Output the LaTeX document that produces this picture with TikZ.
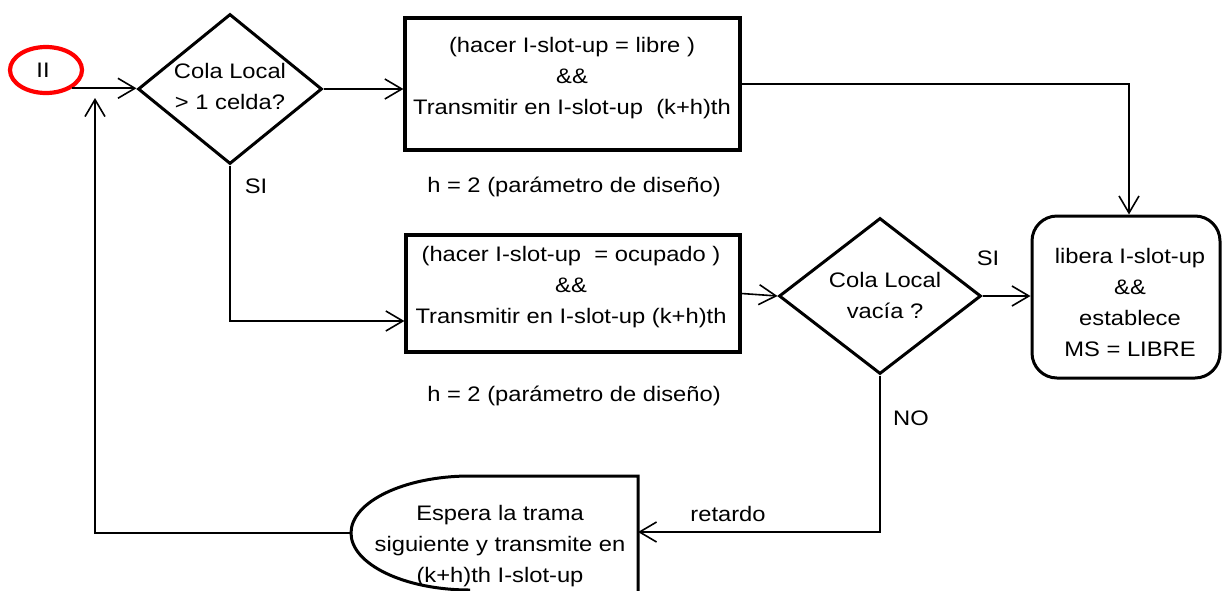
\documentclass[tikz,border=0pt]{standalone}
\usepackage{fontspec}
\setmainfont{Liberation Sans}[FakeStretch=1.13]
\usetikzlibrary{shapes.geometric,arrows.meta,calc}
\begin{document}
\begin{tikzpicture}[x=1pt,y=-1pt,
  every node/.style={font=\fontsize{21}{31}\selectfont, inner sep=0pt},
  con/.style={line width=1.6pt, -{Straight Barb[length=17pt,width=20pt]}},
  dia/.style={diamond, draw, line width=3pt, inner sep=0pt},
  box/.style={rectangle, draw, line width=3.2pt},
  lbl/.style={align=center}]
\useasboundingbox (0,0) rectangle (1223,590);

% start ellipse
\node[ellipse, draw=red, line width=4.2pt, minimum width=72pt, minimum height=46pt] (ell) at (46,70) {};
\node (ellt) at (43,70) {II};

% first decision
\node[dia, minimum width=184pt, minimum height=150pt] (d1) at (230,89) {};
\node[lbl] (d1t) at (230,86) {Cola Local\\> 1 celda?};

% box 1
\node[box, minimum width=335pt, minimum height=132pt] (b1) at (572.5,84) {};
\node[lbl] (b1t) at (572,78) {(hacer I-slot-up = libre )\\\&\&\\Transmitir en I-slot-up\ \ (k+h)th};
\node (h1) at (574,187) {h = 2 (parámetro de diseño)};
\node (si1) at (256,186) {SI};

% box 2
\node[box, minimum width=334pt, minimum height=117pt] (b2) at (573,293.5) {};
\node[lbl] (b2t) at (571,287) {(hacer I-slot-up\ \ = ocupado )\\\&\&\\Transmitir en I-slot-up (k+h)th};
\node (h2) at (574,396) {h = 2 (parámetro de diseño)};

% second decision
\node[dia, minimum width=202pt, minimum height=156pt] (d2) at (880,296) {};
\node[lbl] (d2t) at (885,295) {Cola Local\\vacía ?};
\node (si2) at (988,258) {SI};
\node (no) at (911,418) {NO};

% final rounded box
\node[draw, rounded corners=25pt, line width=3pt, minimum width=188pt, minimum height=162pt] (b3) at (1126,297) {};
\node[lbl] (b3t) at (1130,302) {libera I-slot-up\\\&\&\\establece\\MS = LIBRE};

% wait shape
\draw[line width=3pt] (638,596) -- (638,476) -- (470,476)
  .. controls (404,476) and (351,502) .. (351,533)
  .. controls (351,564) and (404,590) .. (470,590);
\coordinate (wL) at (351,533);
\coordinate (wR) at (638,532);
\node[lbl] (wt) at (500,546) {Espera la trama\\siguiente y transmite en\\(k+h)th I-slot-up};
\node (ret) at (728,514) {retardo};
\coordinate (up) at (95,98);

% connectors
\draw[con] (ell.-35) -- (ell.-35 -| d1.west);
\draw[con] (d1.east) -- (d1.east -| b1.west);
\draw[con] (b1.east) -| ([xshift=3pt]b3.north);
\draw[con] (d1.south) |- ([yshift=-27.5pt]b2.west);
\draw[con] (b2.east) -- (d2.west);
\draw[con] (d2.east) -- (d2.east -| b3.west);
\draw[con] (d2.south) |- (wR);
\draw[con] (wL) -| (up);
\end{tikzpicture}
\end{document}
